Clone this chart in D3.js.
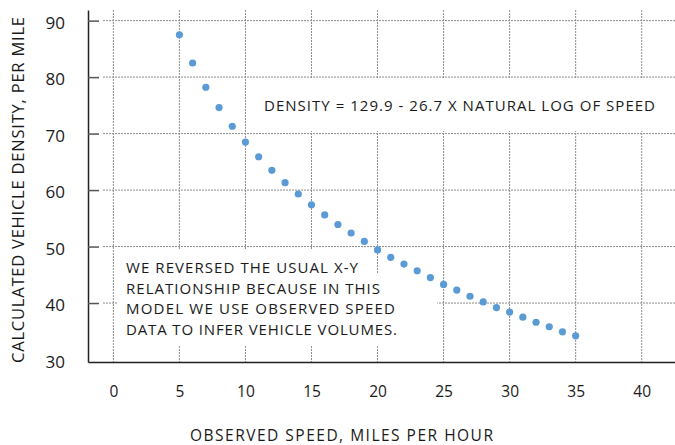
<!DOCTYPE html>
<html>
<head>
<meta charset="utf-8">
<script src="https://cdn.jsdelivr.net/npm/d3@7"></script>
<style>
  body { margin: 0; background: #fff; }
  svg { display: block; }
  text { font-family: "Open Sans", sans-serif; fill: #1a1a1a; }
</style>
</head>
<body>
<svg width="675" height="445"></svg>
<script>
// observed speed (mph) and the density
var speeds = [5, 6, 7, 8, 9, 10, 11, 12, 13, 14, 15, 16, 17, 18, 19, 20,
    21, 22, 23, 24, 25, 26, 27, 28, 29, 30, 31, 32, 33, 34, 35];
var densities = [87.5, 82.5, 78.2, 74.6, 71.3, 68.5, 65.9, 63.5, 61.3, 59.3, 57.4,
    55.6, 53.9, 52.4, 50.9, 49.4, 48.1, 46.9, 45.7, 44.5, 43.3, 42.3, 41.2,
    40.2, 39.2, 38.4, 37.5, 36.6, 35.8, 34.9, 34.2];

var xTicks = [0, 5, 10, 15, 20, 25, 30, 35, 40];
var yTicks = [30, 40, 50, 60, 70, 80, 90];

var xTitle = 'OBSERVED SPEED, MILES PER HOUR';
var yTitle = 'CALCULATED VEHICLE DENSITY, PER MILE';
var equation = 'DENSITY = 129.9 - 26.7 X NATURAL LOG OF SPEED';
var noteLines = ['WE REVERSED THE USUAL X-Y',
    'RELATIONSHIP BECAUSE IN THIS',
    'MODEL WE USE OBSERVED SPEED',
    'DATA TO INFER VEHICLE VOLUMES.'];

var svg = d3.select('svg');

var x = d3.scaleLinear().domain([-1.92, 42.52]).range([88, 675]);
var y = d3.scaleLinear().domain([29.56, 91.88]).range([362, 10]);

var points = speeds.map(function(s, i){
    return {speed: s, density: densities[i]};
});

// grid
svg.append('g')
    .selectAll('line')
    .data(xTicks)
    .enter()
    .append('line')
    .attr('x1', function(d){ return x(d); })
    .attr('x2', function(d){ return x(d); })
    .attr('y1', 10)
    .attr('y2', 362)
    .attr('stroke', '#8c8c8c')
    .attr('stroke-width', 1)
    .attr('stroke-dasharray', '2,1');

svg.append('g')
    .selectAll('line')
    .data(yTicks.filter(function(d){ return d > 30; }))
    .enter()
    .append('line')
    .attr('x1', 103)
    .attr('x2', 675)
    .attr('y1', function(d){ return y(d); })
    .attr('y2', function(d){ return y(d); })
    .attr('stroke', '#8c8c8c')
    .attr('stroke-width', 1)
    .attr('stroke-dasharray', '2,1');

// white boxes behind the text notes
svg.append('rect')
    .attr('x', 248).attr('y', 78)
    .attr('width', 427).attr('height', 53)
    .attr('fill', '#fff');
svg.append('rect')
    .attr('x', 117).attr('y', 249)
    .attr('width', 253).attr('height', 96)
    .attr('fill', '#fff');
svg.append('rect')
    .attr('x', 117).attr('y', 274)
    .attr('width', 320).attr('height', 71)
    .attr('fill', '#fff');

// axes
var yAxis = svg.append('g')
    .attr('transform', 'translate(88,0)')
    .call(d3.axisLeft(y).tickValues(yTicks).tickSizeInner(-11).tickSizeOuter(0).tickPadding(23));
yAxis.select('.domain').attr('stroke', '#222').attr('stroke-width', 1.5);
yAxis.selectAll('.tick line').attr('stroke', '#555').attr('stroke-width', 1.5)
    .filter(function(d){ return d === 30; }).remove();
yAxis.selectAll('.tick text')
    .attr('font-size', 17)
    .attr('font-family', '"Open Sans", sans-serif')
    .attr('fill', '#1a1a1a')
    .attr('dy', '0.45em');

var xAxis = svg.append('g')
    .attr('transform', 'translate(0,362)')
    .call(d3.axisBottom(x).tickValues(xTicks).tickSize(0).tickPadding(24));
xAxis.select('.domain').attr('stroke', '#222').attr('stroke-width', 1.5);
xAxis.selectAll('.tick text')
    .attr('font-size', 15.5)
    .attr('font-family', '"Open Sans", sans-serif')
    .attr('fill', '#1a1a1a');

// points
svg.append('g')
    .selectAll('circle')
    .data(points)
    .enter()
    .append('circle')
    .attr('cx', function(d){ return x(d.speed); })
    .attr('cy', function(d){ return y(d.density); })
    .attr('r', 3.6)
    .attr('fill', '#5b9bd5');

// titles
svg.append('text')
    .attr('x', 190)
    .attr('y', 441)
    .attr('font-size', 15.5)
    .attr('textLength', 303)
    .text(xTitle);

svg.append('text')
    .attr('transform', 'translate(24,363) rotate(-90)')
    .attr('font-size', 16.5)
    .attr('textLength', 346)
    .text(yTitle);

svg.append('text')
    .attr('x', 264)
    .attr('y', 110.5)
    .attr('font-size', 15)
    .attr('textLength', 391)
    .text(equation);

var noteEnds = [358, 380, 395, 397];
svg.append('g')
    .selectAll('text')
    .data(noteLines)
    .enter()
    .append('text')
    .attr('x', 126)
    .attr('y', function(d, i){ return 273.3 + i * 20.4; })
    .attr('font-size', 15)
    .attr('textLength', function(d, i){ return noteEnds[i] - 126; })
    .text(function(d){ return d; });
</script>
</body>
</html>
